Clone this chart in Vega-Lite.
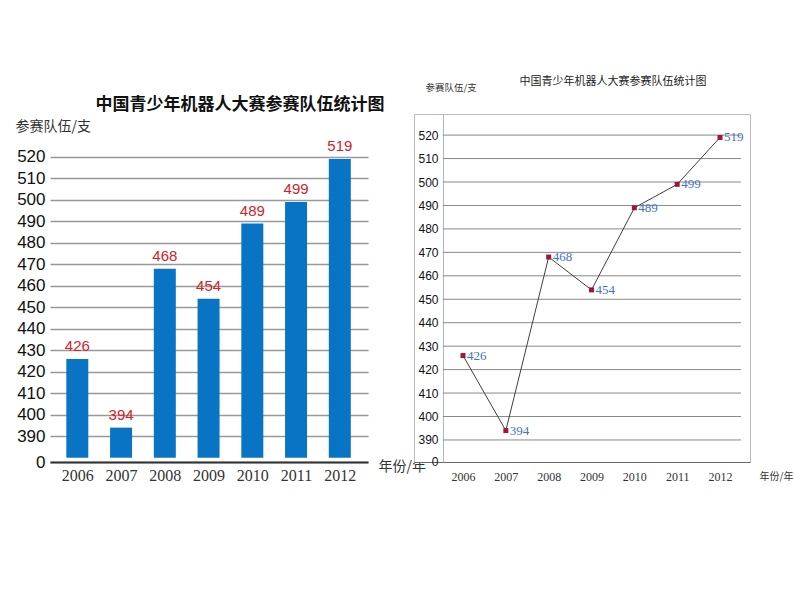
{
  "$schema": "https://vega.github.io/schema/vega-lite/v6.json",
  "padding": {"left": 15, "top": 75, "right": 0, "bottom": 0},
  "background": "white",
  "datasets": {
    "teams": [
      {"year": 2006, "teams": 426},
      {"year": 2007, "teams": 394},
      {"year": 2008, "teams": 468},
      {"year": 2009, "teams": 454},
      {"year": 2010, "teams": 489},
      {"year": 2011, "teams": 499},
      {"year": 2012, "teams": 519}
    ],
    "grid": [
      {"v": 390}, {"v": 400}, {"v": 410}, {"v": 420}, {"v": 430}, {"v": 440}, {"v": 450},
      {"v": 460}, {"v": 470}, {"v": 480}, {"v": 490}, {"v": 500}, {"v": 510}, {"v": 520}
    ]
  },
  "bounds": "flush",
  "spacing": 46,
  "hconcat": [
    {
      "width": 318,
      "height": 348,
      "view": {"stroke": null},
      "title": {
        "text": "中国青少年机器人大赛参赛队伍统计图",
        "font": "Noto Sans CJK SC",
        "fontSize": 17,
        "fontWeight": "bold",
        "color": "#111",
        "anchor": "middle",
        "dx": 31,
        "offset": 0
      },
      "layer": [
        {
          "data": {"name": "teams"},
          "mark": {"type": "bar", "size": 22, "color": "#0a74c4"},
          "encoding": {
            "x": {
              "field": "year", "type": "quantitative",
              "scale": {"domain": [2005.49, 2012.53], "nice": false, "zero": false},
              "axis": {
                "values": [2006, 2007, 2008, 2009, 2010, 2011, 2012],
                "tickCount": 20,
                "format": "d",
                "grid": false,
                "ticks": false,
                "labelOverlap": false,
                "labelPadding": 5,
                "labelFont": "Liberation Serif",
                "labelFontSize": 16,
                "labelColor": "#333",
                "domainColor": "#333",
                "domainWidth": 2,
                "title": "年份/年",
                "titleFont": "Noto Sans CJK SC",
                "titleFontWeight": "normal",
                "titleFontSize": 14,
                "titleColor": "#333",
                "titleAngle": 0,
                "titleAlign": "left",
                "titleBaseline": "middle",
                "titleX": 328,
                "titleY": 4
              }
            },
            "y": {
              "field": "teams", "type": "quantitative",
              "scale": {"domain": [378, 540], "nice": false, "zero": false},
              "axis": {
                "values": [378, 390, 400, 410, 420, 430, 440, 450, 460, 470, 480, 490, 500, 510, 520],
                "tickCount": 40,
                "labelExpr": "datum.value < 385 ? '0' : datum.label",
                "labelOverlap": false,
                "domain": false,
                "ticks": false,
                "labelPadding": 5,
                "labelFont": "Liberation Sans",
                "labelFontSize": 17,
                "labelColor": "#111",
                "grid": true,
                "gridColor": "#999",
                "gridWidth": 1.5,
                "title": "参赛队伍/支",
                "titleFont": "Noto Sans CJK SC",
                "titleFontWeight": "normal",
                "titleFontSize": 14,
                "titleColor": "#333",
                "titleAngle": 0,
                "titleAlign": "left",
                "titleBaseline": "middle",
                "titleX": -35,
                "titleY": 12
              }
            },
            "y2": {"datum": 380}
          }
        },
        {
          "data": {"name": "teams"},
          "mark": {"type": "text", "baseline": "bottom", "dy": -5, "color": "#d2232a", "font": "Liberation Sans", "fontSize": 15},
          "encoding": {
            "x": {"field": "year", "type": "quantitative"},
            "y": {"field": "teams", "type": "quantitative"},
            "text": {"field": "teams", "type": "quantitative"}
          }
        },
        {
          "mark": {"type": "rule", "color": "#333", "strokeWidth": 2},
          "encoding": {
            "x": {"datum": 2005.49, "type": "quantitative"},
            "y": {"datum": 378, "type": "quantitative"},
            "y2": {"datum": 520}
          }
        }
      ]
    },
    {
      "width": 336,
      "height": 348,
      "view": {"stroke": "#bbb", "strokeWidth": 1, "fill": "white"},
      "title": {
        "text": "中国青少年机器人大赛参赛队伍统计图",
        "font": "Noto Sans CJK SC",
        "fontSize": 11,
        "fontWeight": "normal",
        "color": "#222",
        "anchor": "middle",
        "dx": 31,
        "offset": -5
      },
      "layer": [
        {
          "data": {"name": "grid"},
          "mark": {"type": "rule", "color": "#888", "strokeWidth": 1},
          "encoding": {
            "y": {"field": "v", "type": "quantitative"},
            "x": {"datum": 2005.53, "type": "quantitative"},
            "x2": {"datum": 2012.49}
          }
        },
        {
          "data": {"name": "teams"},
          "mark": {"type": "line", "color": "#404040", "strokeWidth": 1},
          "encoding": {
            "x": {
              "field": "year", "type": "quantitative",
              "scale": {"domain": [2004.856, 2012.7], "nice": false, "zero": false},
              "axis": {
                "values": [2006, 2007, 2008, 2009, 2010, 2011, 2012],
                "tickCount": 20,
                "format": "d",
                "grid": false,
                "ticks": false,
                "labelOverlap": false,
                "labelPadding": 9,
                "labelFont": "Liberation Serif",
                "labelFontSize": 12,
                "labelColor": "#333",
                "domainColor": "#666",
                "domainWidth": 1,
                "title": "年份/年",
                "titleFont": "Noto Sans CJK SC",
                "titleFontWeight": "normal",
                "titleFontSize": 10,
                "titleColor": "#333",
                "titleAngle": 0,
                "titleAlign": "left",
                "titleBaseline": "middle",
                "titleX": 345,
                "titleY": 14
              }
            },
            "y": {
              "field": "teams", "type": "quantitative",
              "scale": {"domain": [380.6, 529], "nice": false, "zero": false},
              "axis": {
                "values": [381, 390, 400, 410, 420, 430, 440, 450, 460, 470, 480, 490, 500, 510, 520],
                "tickCount": 40,
                "labelExpr": "datum.value < 385 ? '0' : datum.label",
                "labelOverlap": false,
                "domain": true,
                "domainColor": "#a8b8c8",
                "domainWidth": 1,
                "ticks": false,
                "grid": false,
                "offset": -29,
                "labelPadding": 5,
                "labelFont": "Liberation Sans",
                "labelFontSize": 12,
                "labelColor": "#111",
                "title": "参赛队伍/支",
                "titleFont": "Noto Sans CJK SC",
                "titleFontWeight": "normal",
                "titleFontSize": 9.5,
                "titleColor": "#333",
                "titleAngle": 0,
                "titleAlign": "left",
                "titleBaseline": "middle",
                "titleX": -18,
                "titleY": -27
              }
            }
          }
        },
        {
          "data": {"name": "teams"},
          "mark": {"type": "point", "shape": "square", "filled": true, "size": 25, "color": "#a01830", "opacity": 1},
          "encoding": {
            "x": {"field": "year", "type": "quantitative"},
            "y": {"field": "teams", "type": "quantitative"}
          }
        },
        {
          "data": {"name": "teams"},
          "mark": {"type": "text", "align": "left", "baseline": "middle", "dx": 4, "color": "#4472c4", "font": "Liberation Serif", "fontSize": 13},
          "encoding": {
            "x": {"field": "year", "type": "quantitative"},
            "y": {"field": "teams", "type": "quantitative"},
            "text": {"field": "teams", "type": "quantitative"}
          }
        }
      ]
    }
  ]
}
